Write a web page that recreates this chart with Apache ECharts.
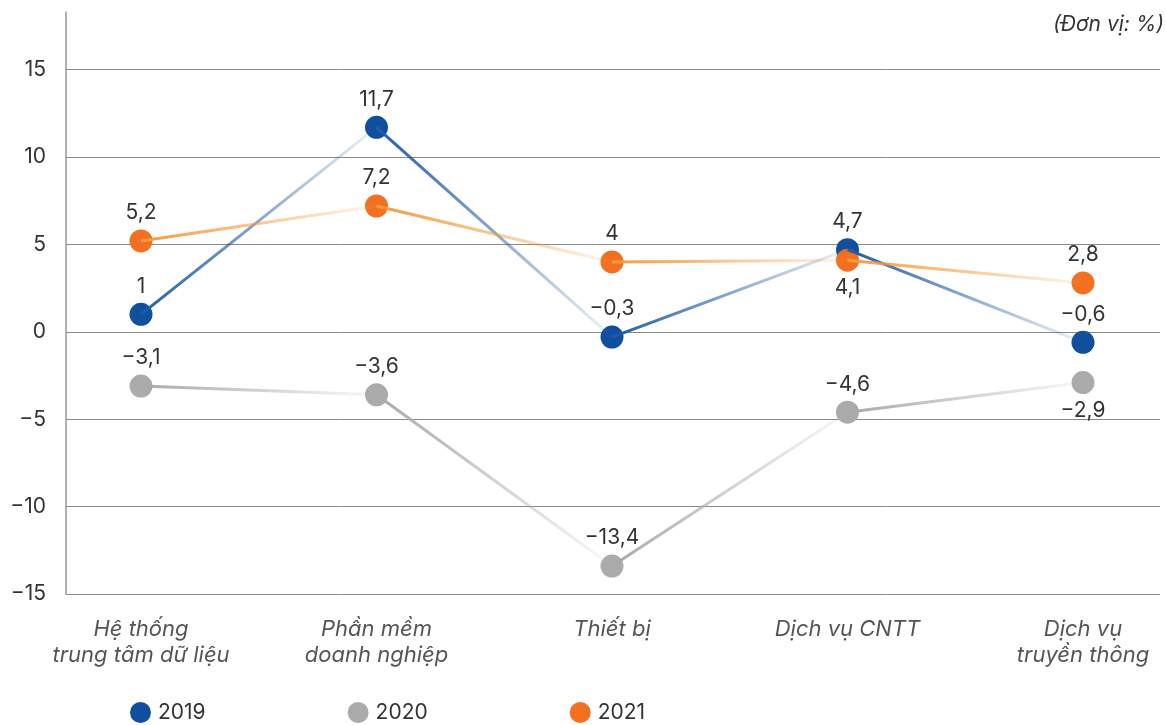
<!DOCTYPE html>
<html>
<head>
<meta charset="utf-8">
<script src="https://cdn.jsdelivr.net/npm/echarts@6/dist/echarts.min.js"></script>
<style>
  html, body { margin: 0; padding: 0; background: #fff; }
  #main { width: 1166px; height: 725px; }
</style>
</head>
<body>
<div id="main"></div>
<script>
var categories = ['Hệ thống\ntrung tâm dữ liệu', 'Phần mềm\ndoanh nghiệp', 'Thiết bị', 'Dịch vụ CNTT', 'Dịch vụ\ntruyền thông'];
var years = ['2019', '2020', '2021'];
var values2019 = [1, 11.7, -0.3, 4.7, -0.6];
var values2020 = [-3.1, -3.6, -13.4, -4.6, -2.9];
var values2021 = [5.2, 7.2, 4, 4.1, 2.8];
var unitText = '(Đơn vị: %)';

var FONT = 'Inter';
var dotColors = ['#0F4F9E', '#ABABAB', '#F37021'];
var lineColors = ['#1E5BA6', '#A9A9A9', '#F59A3A'];
var fadeColors = ['rgba(30,91,166,0.06)', 'rgba(169,169,169,0.06)', 'rgba(245,154,58,0.08)'];
// which labels sit under the dot
var labelsBelow = [[], [4], [3]];

function fmt(v) {
    var s = String(Math.abs(v)).replace('.', ',');
    return v < 0 ? '\u2212' + s : s;
}

var allValues = [values2019, values2020, values2021];
var series = [];

// segments: each one fades from dark to light
allValues.forEach(function (vals, si) {
    for (var i = 0; i < vals.length - 1; i++) {
        var d = vals.map(function (v, k) { return (k === i || k === i + 1) ? v : null; });
        series.push({
            name: years[si] + '-seg' + i,
            type: 'line',
            xAxisIndex: 1,
            yAxisIndex: 1,
            data: d,
            symbol: 'none',
            silent: true,
            z: 4 + si,
            lineStyle: {
                width: 3,
                color: new echarts.graphic.LinearGradient(0, 0, 1, 0, [
                    { offset: 0, color: lineColors[si] },
                    { offset: 1, color: fadeColors[si] }
                ])
            }
        });
    }
});

// dots + value labels
allValues.forEach(function (vals, si) {
    series.push({
        name: years[si],
        type: 'line',
        xAxisIndex: 1,
        yAxisIndex: 1,
        z: 2,
        symbol: 'circle',
        symbolSize: 23,
        lineStyle: { width: 0, opacity: 0 },
        itemStyle: { color: dotColors[si] },
        data: vals.map(function (v, k) {
            return {
                value: v,
                label: { position: labelsBelow[si].indexOf(k) >= 0 ? 'bottom' : 'top' }
            };
        }),
        label: {
            show: true,
            distance: 6,
            fontFamily: FONT,
            fontSize: 21,
            color: '#333',
            formatter: function (p) { return fmt(p.value); }
        }
    });
});

var myChart = echarts.init(document.getElementById('main'));
var option = {
    backgroundColor: '#fff',
    animation: false,
    title: {
        text: unitText,
        right: 2,
        top: 14,
        padding: 0,
        textStyle: { fontFamily: FONT, fontSize: 21, fontStyle: 'italic', fontWeight: 'normal', color: '#333' }
    },
    legend: {
        data: years,
        left: 130,
        top: 702,
        padding: 0,
        icon: 'circle',
        itemWidth: 21,
        itemHeight: 21,
        itemGap: 142,
        textStyle: { fontFamily: FONT, fontSize: 21, color: '#333', padding: [0, 0, 0, 2] }
    },
    grid: [
        { left: 66, right: 6, top: 12, bottom: 131 },
        { left: 141, right: 83, top: 12, bottom: 131 }
    ],
    xAxis: [
        { gridIndex: 0, type: 'value', show: false, min: 0, max: 1 },
        {
            gridIndex: 1,
            type: 'category',
            data: categories,
            boundaryGap: false,
            axisLine: { show: false },
            axisTick: { show: false },
            axisLabel: {
                margin: 22,
                fontFamily: FONT,
                fontSize: 22,
                fontStyle: 'italic',
                lineHeight: 26,
                color: '#555'
            }
        }
    ],
    yAxis: [
        {
            gridIndex: 0,
            type: 'value',
            min: -15,
            max: 18.3,
            interval: 5,
            axisLine: { show: true, lineStyle: { color: '#999', width: 1.5 } },
            axisTick: { show: false },
            splitLine: { show: true, showMaxLine: false, lineStyle: { color: '#8a8a8a', width: 1 } },
            axisLabel: {
                showMaxLabel: false,
                margin: 20,
                fontFamily: FONT,
                fontSize: 21,
                color: '#333',
                formatter: fmt
            }
        },
        { gridIndex: 1, type: 'value', min: -15, max: 18.3, show: false }
    ],
    series: series
};
myChart.setOption(option);
</script>
</body>
</html>
